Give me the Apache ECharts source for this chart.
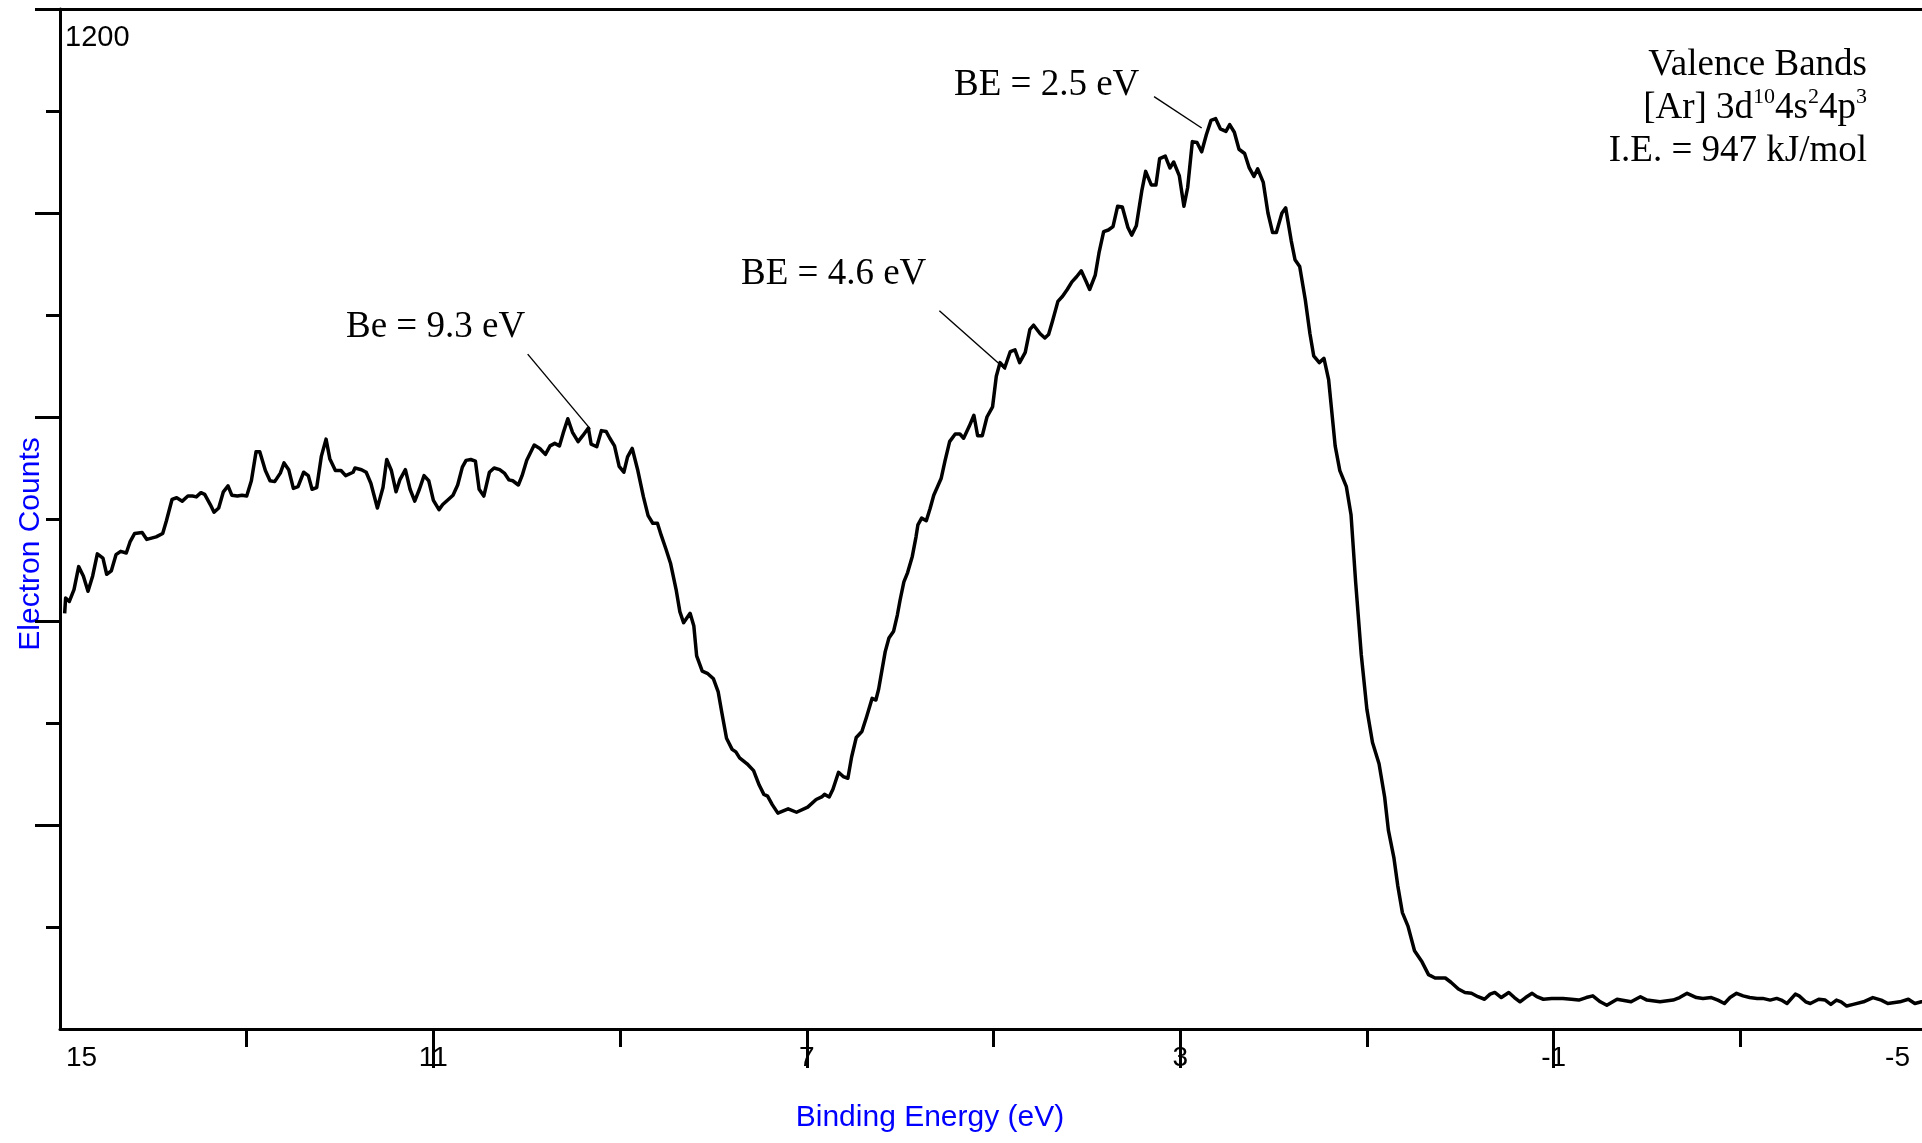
<!DOCTYPE html>
<html>
<head>
<meta charset="utf-8">
<script src="https://cdn.jsdelivr.net/npm/echarts@6/dist/echarts.min.js"></script>
<style>
html,body{margin:0;padding:0;background:#fff;}
#chart{width:1922px;height:1143px;}
</style>
</head>
<body>
<div id="chart"></div>
<script>
// ---- data ----
const bindingEnergy = [
14.95,14.94,14.90,14.85,14.80,14.75,14.70,14.65,14.60,14.54,
14.50,14.45,14.40,14.35,14.29,14.25,14.20,14.12,14.07,13.97,
13.90,13.86,13.80,13.75,13.69,13.63,13.58,13.54,13.49,13.45,
13.39,13.35,13.30,13.25,13.20,13.16,13.10,13.05,13.00,12.95,
12.90,12.86,12.80,12.75,12.70,12.64,12.60,12.55,12.50,12.45,
12.39,12.34,12.30,12.25,12.20,12.15,12.11,12.05,11.99,11.94,
11.86,11.84,11.77,11.72,11.67,11.60,11.54,11.50,11.45,11.40,
11.36,11.30,11.25,11.20,11.15,11.10,11.05,11.00,10.94,10.90,
10.84,10.79,10.74,10.69,10.65,10.60,10.55,10.51,10.46,10.40,
10.35,10.29,10.24,10.19,10.15,10.09,10.05,10.00,9.92,9.86,
9.80,9.75,9.70,9.65,9.61,9.56,9.51,9.45,9.40,9.34,
9.31,9.25,9.20,9.15,9.11,9.06,9.01,8.96,8.92,8.87,
8.81,8.75,8.70,8.65,8.60,8.56,8.51,8.46,8.40,8.36,
8.32,8.25,8.21,8.18,8.12,8.06,8.00,7.95,7.91,7.86,
7.80,7.76,7.72,7.64,7.57,7.51,7.46,7.42,7.37,7.31,
7.20,7.11,6.99,6.90,6.84,6.81,6.76,6.72,6.66,6.61,
6.56,6.52,6.47,6.41,6.36,6.30,6.26,6.23,6.20,6.16,
6.12,6.07,6.03,6.00,5.96,5.92,5.87,5.83,5.81,5.77,
5.72,5.68,5.64,5.60,5.56,5.52,5.47,5.41,5.36,5.32,
5.26,5.21,5.17,5.12,5.07,5.01,4.97,4.93,4.88,4.82,
4.77,4.72,4.66,4.61,4.57,4.50,4.45,4.41,4.37,4.31,
4.26,4.21,4.16,4.11,4.06,4.01,3.97,3.91,3.87,3.82,
3.77,3.72,3.67,3.62,3.56,3.52,3.47,3.41,3.37,3.31,
3.26,3.22,3.16,3.11,3.07,3.01,2.96,2.92,2.87,2.82,
2.77,2.72,2.67,2.62,2.57,2.51,2.47,2.42,2.37,2.31,
2.26,2.21,2.17,2.11,2.06,2.01,1.97,1.91,1.87,1.81,
1.77,1.72,1.66,1.61,1.57,1.51,1.46,1.41,1.34,1.29,
1.22,1.17,1.12,1.06,1.00,0.94,0.87,0.81,0.77,0.71,
0.67,0.62,0.56,0.49,0.41,0.34,0.27,0.25,0.16,0.10,
0.02,-0.05,-0.12,-0.19,-0.26,-0.32,-0.37,-0.44,-0.52,-0.58,
-0.64,-0.70,-0.77,-0.82,-0.89,-0.98,-1.10,-1.19,-1.27,-1.35,
-1.42,-1.50,-1.57,-1.68,-1.83,-1.93,-2.00,-2.14,-2.28,-2.35,
-2.43,-2.53,-2.60,-2.69,-2.76,-2.83,-2.89,-2.96,-3.03,-3.10,
-3.18,-3.24,-3.32,-3.39,-3.44,-3.50,-3.59,-3.63,-3.70,-3.75,
-3.84,-3.91,-3.97,-4.03,-4.08,-4.14,-4.21,-4.32,-4.42,-4.51,
-4.58,-4.71,-4.80,-4.87,-4.94,-5.00
];
const electronCounts = [
489,507,503,517,544,533,515,533,559,554,
535,539,558,562,560,573,583,584,576,579,
583,598,623,625,621,627,627,626,631,629,
617,608,613,632,639,628,627,628,627,645,
679,679,657,645,644,654,666,658,636,638,
655,651,635,637,674,694,671,657,657,651,
655,660,658,655,642,613,637,670,657,632,
646,658,635,621,635,651,645,622,611,617,
623,628,640,661,669,670,668,635,627,655,
660,658,654,646,645,640,651,669,687,683,
676,686,689,686,701,718,702,691,698,707,
688,685,704,703,695,686,662,655,673,683,
657,626,604,595,595,581,565,548,517,491,
478,489,474,439,421,418,412,397,372,342,
329,326,319,312,304,287,276,274,264,254,
259,255,261,270,273,276,273,282,302,297,
295,320,343,350,367,389,387,400,419,444,
460,468,487,505,526,537,556,579,593,601,
598,612,628,638,648,668,691,700,700,695,
709,722,698,698,720,732,768,784,778,797,
799,784,796,823,828,818,813,817,832,856,
862,870,879,885,892,880,870,887,913,938,
940,944,968,967,943,934,945,987,1009,993,
993,1024,1027,1013,1020,1004,968,990,1044,1043,
1032,1052,1069,1071,1059,1056,1064,1055,1035,1030,
1013,1003,1012,996,960,937,937,960,966,927,
905,897,858,818,792,784,789,764,686,657,
638,605,525,440,376,337,312,273,234,201,
169,137,121,92,79,64,60,58,60,55,
47,43,42,38,35,41,43,37,43,37,
32,37,42,38,35,36,36,35,34,37,
39,32,28,35,32,38,34,32,34,37,
42,37,36,37,34,30,37,42,39,37,
36,36,34,36,34,30,41,39,32,30,
35,34,29,34,32,27,29,32,37,34,
30,32,35,30,32,32
];
const xLabelValues = [15, 11, 7, 3, -1, -5];
const xMajorTicks = [11, 7, 3, -1, -5];
const xMinorTicks = [13, 9, 5, 1, -3];
const yMajorTicks = [240, 480, 720, 960, 1200];
const yMinorTicks = [120, 360, 600, 840, 1080];
const yLabelValues = [1200];
const annotationTexts = ['Be = 9.3 eV', 'BE = 4.6 eV', 'BE = 2.5 eV'];
const leaderStart = [[9.99, 794], [5.58, 845], [3.28, 1097]];
const leaderEnd = [[9.32, 706], [4.87, 776], [2.77, 1060]];

// ---- chart ----
const SANS = '"Liberation Sans", Arial, sans-serif';
const SERIF = '"Liberation Serif", "Times New Roman", serif';
const seriesData = [];
const n = Math.min(bindingEnergy.length, electronCounts.length);
for (let i = 0; i < n; i++) seriesData.push([bindingEnergy[i], electronCounts[i]]);

const chart = echarts.init(document.getElementById('chart'), null, {renderer: 'canvas'});

const baseX = {
  type: 'value', min: -5, max: 15, inverse: true, gridIndex: 0,
  splitLine: {show: false}
};
const baseY = {
  type: 'value', min: 0, max: 1200, gridIndex: 0,
  splitLine: {show: false}
};

const annoPos = [[346, 327], [741, 274], [954, 85]];

const option = {
  animation: false,
  backgroundColor: '#ffffff',
  grid: {left: 60, top: 9, width: 1867, height: 1020, containLabel: false, outerBoundsMode: 'none'},
  xAxis: [
    Object.assign({}, baseX, {
      position: 'bottom',
      axisLine: {show: true, onZero: false, lineStyle: {color: '#000', width: 3}},
      axisTick: {show: true, customValues: xMajorTicks, length: 39, lineStyle: {color: '#000', width: 3}},
      axisLabel: {
        show: true, customValues: xLabelValues, margin: 15,
        color: '#000', fontSize: 28, fontFamily: SANS,
        alignMinLabel: 'left', alignMaxLabel: 'right',
        formatter: function (v) {
          if (v === -5) return '{r|-5}';
          if (v === 15) return '{l|15}';
          return String(v);
        },
        rich: {
          r: {fontSize: 28, fontFamily: SANS, color: '#000', padding: [0, 17, 0, 0]},
          l: {fontSize: 28, fontFamily: SANS, color: '#000', padding: [0, 0, 0, 6]}
        }
      }
    }),
    Object.assign({}, baseX, {
      position: 'bottom',
      axisLine: {show: false, onZero: false},
      axisTick: {show: true, customValues: xMinorTicks, length: 18, lineStyle: {color: '#000', width: 3}},
      axisLabel: {show: false}
    }),
    Object.assign({}, baseX, {
      position: 'top',
      axisLine: {show: true, onZero: false, lineStyle: {color: '#000', width: 3}},
      axisTick: {show: false},
      axisLabel: {show: false}
    })
  ],
  yAxis: [
    Object.assign({}, baseY, {
      position: 'left',
      axisLine: {show: true, onZero: false, lineStyle: {color: '#000', width: 3}},
      axisTick: {show: true, customValues: yMajorTicks, length: 25, lineStyle: {color: '#000', width: 3}},
      axisLabel: {
        show: true, customValues: yLabelValues, inside: true, margin: 5,
        color: '#000', fontSize: 29, fontFamily: SANS,
        verticalAlign: 'top', padding: [14, 0, 0, 0],
        formatter: function (v) { return String(v); }
      }
    }),
    Object.assign({}, baseY, {
      position: 'left',
      axisLine: {show: false, onZero: false},
      axisTick: {show: true, customValues: yMinorTicks, length: 14, lineStyle: {color: '#000', width: 3}},
      axisLabel: {show: false}
    })
  ],
  series: [{
    type: 'line',
    xAxisIndex: 0, yAxisIndex: 0,
    data: seriesData,
    showSymbol: false, symbol: 'none',
    smooth: false,
    lineStyle: {color: '#000', width: 3.5, join: 'round'},
    emphasis: {disabled: true},
    silent: true,
    markLine: {
      silent: true,
      symbol: ['none', 'none'],
      label: {show: false},
      emphasis: {disabled: true},
      lineStyle: {color: '#000', width: 1.4, type: 'solid'},
      data: leaderStart.map(function (s, i) {
        return [{coord: s}, {coord: leaderEnd[i]}];
      })
    }
  }],
  graphic: [
    {type: 'text', x: 31, y: 544, rotation: Math.PI / 2,
     style: {text: 'Electron Counts', font: '30px ' + SANS, fill: '#0000ff', align: 'center', verticalAlign: 'middle'}},
    {type: 'text', x: 930, y: 1118,
     style: {text: 'Binding Energy (eV)', font: '30px ' + SANS, fill: '#0000ff', align: 'center', verticalAlign: 'middle'}},
    {type: 'text', x: 1867, y: 65,
     style: {text: 'Valence Bands', font: '37px ' + SERIF, fill: '#000', align: 'right', verticalAlign: 'middle'}},
    {type: 'text', x: 1867, y: 108,
     style: {
       text: '{n|[Ar] 3d}{s|10}{n|4s}{s|2}{n|4p}{s|3}',
       align: 'right', verticalAlign: 'middle',
       rich: {
         n: {fontSize: 37, fontFamily: SERIF, fill: '#000', lineHeight: 43},
         s: {fontSize: 22, fontFamily: SERIF, fill: '#000', lineHeight: 26, verticalAlign: 'top'}
       }
     }},
    {type: 'text', x: 1867, y: 151,
     style: {text: 'I.E. = 947 kJ/mol', font: '37px ' + SERIF, fill: '#000', align: 'right', verticalAlign: 'middle'}}
  ].concat(annotationTexts.map(function (t, i) {
    return {type: 'text', x: annoPos[i][0], y: annoPos[i][1],
      style: {text: t, font: '37px ' + SERIF, fill: '#000', align: 'left', verticalAlign: 'middle'}};
  }))
};
chart.setOption(option);
</script>
</body>
</html>
